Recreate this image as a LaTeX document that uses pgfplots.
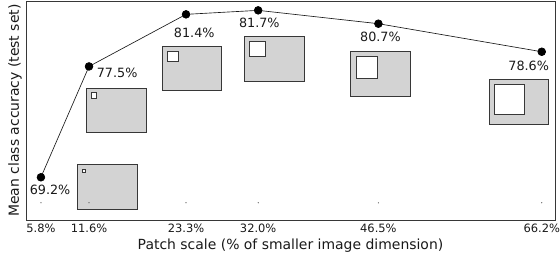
\documentclass[border=0pt]{standalone}
\usepackage{pgfplots}
\pgfplotsset{compat=1.18}
\usepackage{fontspec}
\setmainfont{DejaVu Sans}
\definecolor{boxgray}{RGB}{211,211,211}
\definecolor{edge}{RGB}{55,55,55}
\begin{document}
\begin{tikzpicture}
\useasboundingbox (-26bp,-38bp) rectangle (534bp,220bp);
\begin{axis}[
 at={(0,0)}, anchor=south west,
 scale only axis, width=529bp, height=219bp,
 xmin=4, xmax=67.8, ymin=66, ymax=82.4,
 xtick={5.8,11.6,23.3,32.0,46.5,66.2},
 xticklabels={5.8\%,11.6\%,23.3\%,32.0\%,46.5\%,66.2\%},
 ytick=\empty,
 major tick length=0pt,
 tick label style={font=\fontsize{11.5}{13}\selectfont, text=black!90},
 xticklabel style={anchor=center, yshift=-8.5bp},
 xlabel style={font=\fontsize{14}{16}\selectfont, text=black!90, at={(axis description cs:0.5,-0.1187)}, anchor=center},
 ylabel style={font=\fontsize{14}{16}\selectfont, text=black!90, at={(axis description cs:-0.0208,0.5)}, anchor=center},
 xlabel={Patch scale (\% of smaller image dimension)},
 ylabel={Mean class accuracy (test set)},
 axis line style={edge, line width=1pt},
 clip=false,
 /pgf/number format/assume math mode=true,
]
\addplot[black!90, line width=0.65pt, mark=*, mark size=3.9pt, mark options={fill=black, draw=black}]
 coordinates {(5.8,69.2)(11.6,77.5)(23.3,81.4)(32.0,81.7)(46.5,80.7)(66.2,78.6)};
\addplot[only marks, mark=*, mark size=0.35pt, black!60]
 coordinates {(5.8,67.29)(11.6,67.29)(23.3,67.29)(32.0,67.29)(46.5,67.29)(66.2,67.29)};
% patch illustrations
\tikzset{outer/.style={fill=boxgray, draw=edge, line width=0.8pt}, inner/.style={fill=white, draw=edge, line width=0.8pt}}
\draw[outer] (axis cs:10.16,70.19) rectangle (axis cs:17.41,66.82);
\draw[inner] (axis cs:10.76,69.82) rectangle (axis cs:11.13,69.60);
\draw[outer] (axis cs:11.25,75.89) rectangle (axis cs:18.49,72.59);
\draw[inner] (axis cs:11.85,75.59) rectangle (axis cs:12.45,75.14);
\draw[outer] (axis cs:20.43,79.03) rectangle (axis cs:27.55,75.74);
\draw[inner] (axis cs:21.03,78.66) rectangle (axis cs:22.36,77.84);
\draw[outer] (axis cs:30.33,79.78) rectangle (axis cs:37.57,76.41);
\draw[inner] (axis cs:30.93,79.41) rectangle (axis cs:32.86,78.28);
\draw[outer] (axis cs:43.13,78.66) rectangle (axis cs:50.38,75.29);
\draw[inner] (axis cs:43.86,78.28) rectangle (axis cs:46.39,76.64);
\draw[outer] (axis cs:59.92,76.56) rectangle (axis cs:67.04,73.19);
\draw[inner] (axis cs:60.52,76.19) rectangle (axis cs:64.14,73.94);
% value labels
\tikzset{val/.style={font=\fontsize{12.8}{15}\selectfont, text=black!90}}
\node[val] at (axis cs:6.90,68.25) {69.2\%};
\node[val] at (axis cs:14.99,77.01) {77.5\%};
\node[val] at (axis cs:24.29,80.01) {81.4\%};
\node[val] at (axis cs:32.14,80.76) {81.7\%};
\node[val] at (axis cs:46.75,79.71) {80.7\%};
\node[val] at (axis cs:64.63,77.54) {78.6\%};
\end{axis}
\end{tikzpicture}
\end{document}
